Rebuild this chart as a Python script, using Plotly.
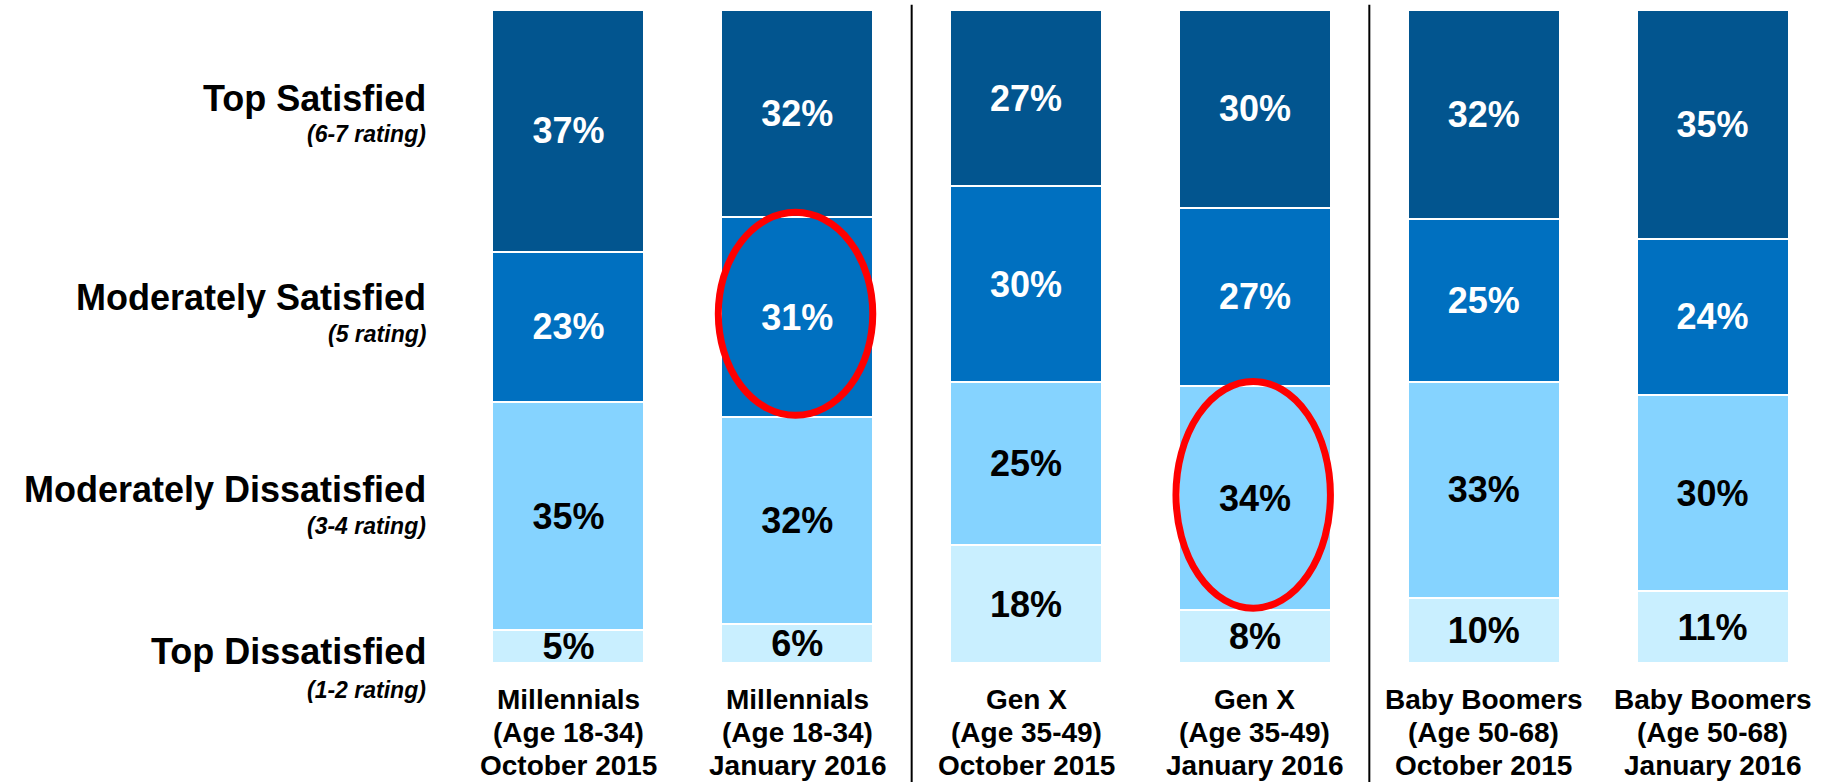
import plotly.graph_objects as go

# ---------------- data ----------------
groups = ["Millennials", "Millennials", "Gen X", "Gen X", "Baby Boomers", "Baby Boomers"]
ages = ["(Age 18-34)", "(Age 18-34)", "(Age 35-49)", "(Age 35-49)", "(Age 50-68)", "(Age 50-68)"]
periods = ["October 2015", "January 2016", "October 2015", "January 2016", "October 2015", "January 2016"]

series_names = ["Top Dissatisfied", "Moderately Dissatisfied", "Moderately Satisfied", "Top Satisfied"]
series_sub = ["(1-2 rating)", "(3-4 rating)", "(5 rating)", "(6-7 rating)"]
top_dissatisfied = [5, 6, 18, 8, 10, 11]
mod_dissatisfied = [35, 32, 25, 34, 33, 30]
mod_satisfied = [23, 31, 30, 27, 25, 24]
top_satisfied = [37, 32, 27, 30, 32, 35]

# highlighted cells (bar index, series name)
highlights = [(1, "Moderately Satisfied"), (3, "Moderately Dissatisfied")]

# ---------------- styles ----------------
colors = ["#C9EFFF", "#85D3FF", "#0070C0", "#02558F"]
text_colors = ["black", "black", "white", "white"]
label_y = [0.017, 0.266, 0.559, 0.864]     # vertical placement of left-hand labels (paper units)
sub_y = [-0.041, 0.210, 0.504, 0.810]
FONT = "Liberation Sans, Arial, Helvetica, sans-serif"

values = [top_dissatisfied, mod_dissatisfied, mod_satisfied, top_satisfied]
xcats = [f"{g} {p}" for g, p in zip(groups, periods)]
totals = [sum(v[i] for v in values) for i in range(len(xcats))]
norm = [[v[i] / totals[i] * 100 for i in range(len(xcats))] for v in values]

fig = go.Figure()
for k, name in enumerate(series_names):
    fig.add_trace(go.Bar(
        x=xcats, y=norm[k], name=name,
        marker=dict(color=colors[k], line=dict(color="white", width=2)),
        text=[f"{v}%" for v in values[k]],
        textposition="inside", insidetextanchor="middle", constraintext="none",
        textangle=0,
        textfont=dict(family=FONT, size=36, color=text_colors[k], weight="bold"),
        hoverinfo="skip",
    ))

shapes = []
# separators between generations
for xs in [1.5, 3.5]:
    shapes.append(dict(type="line", xref="x", yref="paper", x0=xs, x1=xs,
                       y0=-0.185, y1=1.008, line=dict(color="black", width=2)))
# red ellipses
for bi, sname in highlights:
    k = series_names.index(sname)
    bottom = sum(norm[j][bi] for j in range(k))
    top = bottom + norm[k][bi]
    shapes.append(dict(type="circle", xref="x", yref="y",
                       x0=bi - 0.345, x1=bi + 0.33, y0=bottom + 0.3, y1=top + 0.7,
                       line=dict(color="#FF0000", width=7)))

annotations = []
for k, name in enumerate(series_names):
    annotations.append(dict(text=f"<b>{name}</b>", xref="paper", yref="paper", x=0, y=label_y[k],
                            xshift=-26, xanchor="right", yanchor="middle", showarrow=False,
                            font=dict(family=FONT, size=36, color="black")))
    annotations.append(dict(text=f"<b><i>{series_sub[k]}</i></b>", xref="paper", yref="paper", x=0,
                            y=sub_y[k], xshift=-26, xanchor="right", yanchor="middle",
                            showarrow=False,
                            font=dict(family=FONT, size=23, color="black")))

line_shifts = [-36, -69, -102]
for i, cat in enumerate(xcats):
    for lines_txt, sh in zip([groups[i], ages[i], periods[i]], line_shifts):
        annotations.append(dict(text=f"<b>{lines_txt}</b>", xref="x", yref="paper", x=cat, y=0,
                                yshift=sh, xanchor="center", yanchor="middle", showarrow=False,
                                font=dict(family=FONT, size=28, color="black")))

fig.update_layout(
    width=1833, height=782,
    barmode="stack", bargap=0.336,
    margin=dict(l=454, r=6, t=10, b=119, pad=0),
    paper_bgcolor="white", plot_bgcolor="white",
    showlegend=False,
    xaxis=dict(type="category", range=[-0.5, 5.5], showticklabels=False, showgrid=False,
               zeroline=False, showline=False, ticks=""),
    yaxis=dict(range=[0, 100], visible=False),
    shapes=shapes, annotations=annotations,
)

fig.write_html("out.html",
               config={"displayModeBar": False, "staticPlot": True},
               post_script="document.body.style.margin='0';document.body.style.overflow='hidden';")
